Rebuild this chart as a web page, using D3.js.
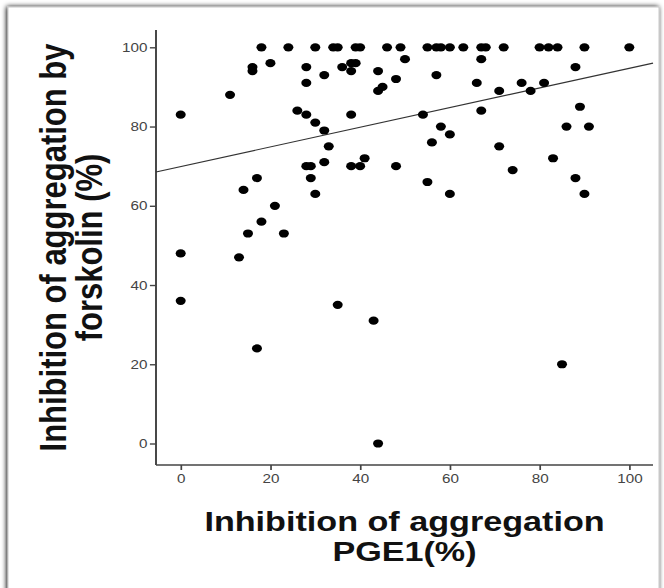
<!DOCTYPE html>
<html>
<head>
<meta charset="utf-8">
<script src="https://cdnjs.cloudflare.com/ajax/libs/d3/7.8.5/d3.min.js"></script>
<style>
  html, body { margin: 0; padding: 0; background: #fff; }
  svg { display: block; }
</style>
</head>
<body>
<div id="chart"></div>
<script>
// PGE1 inhibition (%) vs forskolin inhibition (%)
const pge1 = [
  18, 24, 30, 34, 35, 39, 40, 46, 49, 55, 57, 58, 60, 63, 67, 68, 72, 80, 82, 84, 90, 100,
  50, 67, 20, 38, 39, 16, 28, 36, 88, 16, 38, 44, 32, 57, 48, 28, 66, 76, 81, 45,
  44, 71, 78, 11, 89, 26, 67, 0, 28, 38, 54, 30, 58, 86, 91, 32, 60, 56, 33, 71,
  41, 83, 32, 28, 29, 38, 40, 48, 74, 17, 29, 88, 55, 14, 30, 60, 90, 21, 18, 15,
  23, 0, 13, 0, 35, 43, 17, 85, 44
];
const forskolin = [
  100, 100, 100, 100, 100, 100, 100, 100, 100, 100, 100, 100, 100, 100, 100, 100, 100, 100, 100, 100, 100, 100,
  97, 97, 96, 96, 96, 95, 95, 95, 95, 94, 94, 94, 93, 93, 92, 91, 91, 91, 91, 90,
  89, 89, 89, 88, 85, 84, 84, 83, 83, 83, 83, 81, 80, 80, 80, 79, 78, 76, 75, 75,
  72, 72, 71, 70, 70, 70, 70, 70, 69, 67, 67, 67, 66, 64, 63, 63, 63, 60, 56, 53,
  53, 48, 47, 36, 35, 31, 24, 20, 0
];
// fit line as drawn: forskolin = intercept + slope * pge1
const fitIntercept = 69.9;
const fitSlope = 0.248;

const xTicks = [0, 20, 40, 60, 80, 100];
const yTicks = [0, 20, 40, 60, 80, 100];
const xTitle = ['Inhibition of aggregation', 'PGE1(%)'];
const yTitle = ['Inhibition of aggregation by', 'forskolin (%)'];

const W = 664, H = 588;
const sx = 1.22; // the original figure is stretched sideways

const svg = d3.select('#chart').append('svg')
  .attr('width', W)
  .attr('height', H);

const defs = svg.append('defs');
const shadow = defs.append('filter').attr('id', 'shadow')
  .attr('x', '-5%').attr('y', '-5%').attr('width', '110%').attr('height', '110%');
shadow.append('feGaussianBlur').attr('in', 'SourceAlpha').attr('stdDeviation', 2.5);
shadow.append('feOffset').attr('dx', -1).attr('dy', 0).attr('result', 'b');
const merge = shadow.append('feMerge');
merge.append('feMergeNode').attr('in', 'b');
merge.append('feMergeNode').attr('in', 'SourceGraphic');

// outer frame
svg.append('rect')
  .attr('x', 8).attr('y', 7)
  .attr('width', 651).attr('height', 600)
  .attr('fill', '#fff')
  .attr('stroke', '#c8c8c8')
  .attr('stroke-width', 1)
  .attr('filter', 'url(#shadow)');

const g = svg.append('g').attr('transform', `scale(${sx},1)`);

const axisLeftX = 156 / sx, axisRightX = 653 / sx;
const axisTopY = 30, axisBottomY = 465;

const x = d3.scaleLinear()
  .domain([0, 100])
  .range([180.7 / sx, 629.3 / sx]);
const y = d3.scaleLinear()
  .domain([0, 100])
  .range([443.5, 47.3]);

const xMin = x.invert(axisLeftX), xMax = x.invert(axisRightX);

// y axis
const yAxis = g.append('g')
  .attr('transform', `translate(${axisLeftX},0)`)
  .call(d3.axisLeft(y).tickValues(yTicks).tickSize(5).tickPadding(2));
yAxis.select('.domain')
  .attr('d', `M0,${axisTopY}V${axisBottomY}`);

// x axis
const xAxis = g.append('g')
  .attr('transform', `translate(0,${axisBottomY})`)
  .call(d3.axisBottom(x).tickValues(xTicks).tickSize(5).tickPadding(4));
xAxis.select('.domain')
  .attr('d', `M${axisLeftX},0H${axisRightX}`);

g.selectAll('.domain')
  .attr('stroke', '#444')
  .attr('stroke-width', 1.6);
g.selectAll('.tick line')
  .attr('stroke', '#444')
  .attr('stroke-width', 1.4);
g.selectAll('.tick text')
  .attr('fill', '#444')
  .style('font-family', 'Liberation Sans, Arial, sans-serif')
  .style('font-size', '12.5px');

// fit line
g.append('line')
  .attr('x1', x(xMin))
  .attr('y1', y(fitIntercept + fitSlope * xMin))
  .attr('x2', x(xMax))
  .attr('y2', y(fitIntercept + fitSlope * xMax))
  .attr('stroke', '#333')
  .attr('stroke-width', 1.1);

// points
g.append('g')
  .selectAll('circle')
  .data(d3.range(pge1.length))
  .join('circle')
  .attr('cx', i => x(pge1[i]))
  .attr('cy', i => y(forskolin[i]))
  .attr('r', 4.1)
  .attr('fill', '#000');

// x title
g.append('text')
  .attr('x', (axisLeftX + axisRightX) / 2)
  .attr('y', 531)
  .attr('text-anchor', 'middle')
  .style('font-family', 'Liberation Sans, Arial, sans-serif')
  .style('font-weight', 'bold')
  .style('font-size', '28px')
  .attr('fill', '#111')
  .text(xTitle[0]);
g.append('text')
  .attr('x', (axisLeftX + axisRightX) / 2)
  .attr('y', 561)
  .attr('text-anchor', 'middle')
  .style('font-family', 'Liberation Sans, Arial, sans-serif')
  .style('font-weight', 'bold')
  .style('font-size', '28px')
  .attr('fill', '#111')
  .text(xTitle[1]);

// y title
const yMid = (axisTopY + axisBottomY) / 2;
[54, 84].forEach((bx, i) => {
  g.append('text')
    .attr('transform', `translate(${bx},${yMid}) rotate(-90)`)
    .attr('text-anchor', 'middle')
    .style('font-family', 'Liberation Sans, Arial, sans-serif')
    .style('font-weight', 'bold')
    .style('font-size', '31px')
    .attr('fill', '#111')
    .text(yTitle[i]);
});
</script>
</body>
</html>
